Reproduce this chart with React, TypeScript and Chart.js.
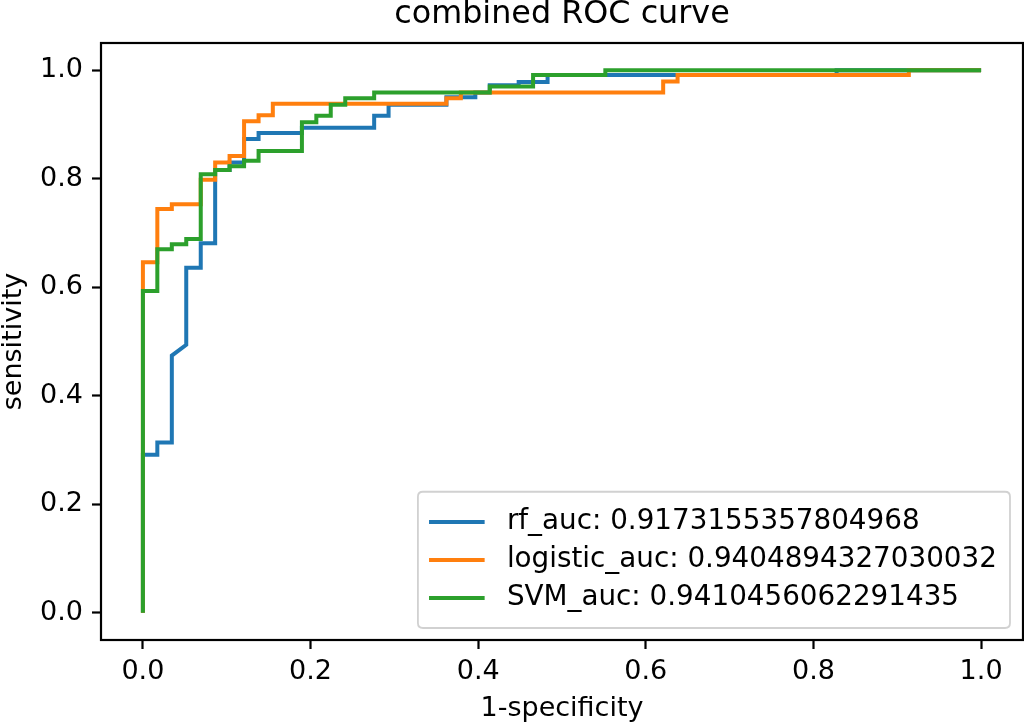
import React, { useEffect, useRef } from "react";
import { Chart, registerables } from "chart.js";
Chart.register(...registerables);

const titleText = "combined ROC curve";
const xAxisLabel = "1-specificity";
const yAxisLabel = "sensitivity";
const xTickValues = [0, 0.2, 0.4, 0.6, 0.8, 1.0];
const yTickValues = [0, 0.2, 0.4, 0.6, 0.8, 1.0];

const seriesNames = [
  "rf_auc: 0.9173155357804968",
  "logistic_auc: 0.9404894327030032",
  "SVM_auc: 0.9410456062291435",
];
const seriesColors = ["#1f77b4", "#ff7f0e", "#2ca02c"];

const rfFpr = [0, 0, 0.0172, 0.0172, 0.0345, 0.0345, 0.0517, 0.0517, 0.069, 0.069, 0.0862, 0.0862, 0.1034, 0.1034, 0.1207, 0.1207, 0.138, 0.138, 0.1897, 0.1897, 0.2759, 0.2759, 0.2931, 0.2931, 0.3621, 0.3621, 0.3966, 0.3966, 0.4138, 0.4138, 0.4483, 0.4483, 0.4828, 0.4828, 0.8276, 0.8276, 1];
const rfTpr = [0, 0.2915, 0.2915, 0.314, 0.314, 0.474, 0.494, 0.636, 0.636, 0.681, 0.681, 0.816, 0.816, 0.83, 0.83, 0.873, 0.873, 0.884, 0.884, 0.894, 0.894, 0.916, 0.916, 0.936, 0.936, 0.95, 0.95, 0.959, 0.959, 0.972, 0.972, 0.978, 0.978, 0.991, 0.991, 1, 1];

const logFpr = [0, 0, 0.0172, 0.0172, 0.0345, 0.0345, 0.069, 0.069, 0.0862, 0.0862, 0.1034, 0.1034, 0.1207, 0.1207, 0.138, 0.138, 0.155, 0.155, 0.3621, 0.3621, 0.3793, 0.3793, 0.6207, 0.6207, 0.6379, 0.6379, 0.9138, 0.9138, 1];
const logTpr = [0, 0.646, 0.646, 0.744, 0.744, 0.753, 0.753, 0.798, 0.798, 0.83, 0.83, 0.842, 0.842, 0.906, 0.906, 0.917, 0.917, 0.938, 0.938, 0.948, 0.948, 0.959, 0.959, 0.979, 0.979, 0.991, 0.991, 1, 1];

const svmFpr = [0, 0, 0.0172, 0.0172, 0.0345, 0.0345, 0.0517, 0.0517, 0.069, 0.069, 0.0862, 0.0862, 0.1034, 0.1034, 0.1207, 0.1207, 0.138, 0.138, 0.1897, 0.1897, 0.2069, 0.2069, 0.2241, 0.2241, 0.2414, 0.2414, 0.2759, 0.2759, 0.4138, 0.4138, 0.4655, 0.4655, 0.5517, 0.5517, 1];
const svmTpr = [0, 0.593, 0.593, 0.67, 0.67, 0.679, 0.679, 0.689, 0.689, 0.808, 0.808, 0.816, 0.816, 0.823, 0.823, 0.833, 0.833, 0.851, 0.851, 0.904, 0.904, 0.916, 0.916, 0.936, 0.936, 0.948, 0.948, 0.959, 0.959, 0.97, 0.97, 0.991, 0.991, 1, 1];

const FONT = "'DejaVu Sans', sans-serif";
const FS = 27;
const LFS = 27.8;

const toPoints = (xs: number[], ys: number[]) => xs.map((x, i) => ({ x, y: ys[i] }));

const decorPlugin = {
  id: "decor",
  afterDatasetsDraw(chart: any) {
    const { ctx, chartArea } = chart;
    const { left, right, top, bottom } = chartArea;
    ctx.save();
    // spines
    ctx.strokeStyle = "#000";
    ctx.lineWidth = 2.2;
    ctx.strokeRect(left, top, right - left, bottom - top);
    // title
    ctx.fillStyle = "#000";
    ctx.font = `${31.8}px ${FONT}`;
    ctx.textAlign = "center";
    ctx.textBaseline = "middle";
    ctx.fillText(titleText, (left + right) / 2, 15);
    // legend
    ctx.font = `${LFS}px ${FONT}`;
    const pad = 0.4 * LFS;
    const handle = 2.0 * LFS;
    const gap = 0.8 * LFS;
    const rowH = 38;
    const textW = Math.max(...seriesNames.map((n) => ctx.measureText(n).width));
    const boxW = pad * 2 + handle + gap + textW + 2;
    const boxH = pad * 2 + rowH * 3;
    const bx = right - 13 - boxW;
    const by = bottom - 12 - boxH;
    const r = 5;
    ctx.beginPath();
    ctx.moveTo(bx + r, by);
    ctx.lineTo(bx + boxW - r, by);
    ctx.quadraticCurveTo(bx + boxW, by, bx + boxW, by + r);
    ctx.lineTo(bx + boxW, by + boxH - r);
    ctx.quadraticCurveTo(bx + boxW, by + boxH, bx + boxW - r, by + boxH);
    ctx.lineTo(bx + r, by + boxH);
    ctx.quadraticCurveTo(bx, by + boxH, bx, by + boxH - r);
    ctx.lineTo(bx, by + r);
    ctx.quadraticCurveTo(bx, by, bx + r, by);
    ctx.closePath();
    ctx.fillStyle = "rgba(255,255,255,0.8)";
    ctx.fill();
    ctx.strokeStyle = "rgba(204,204,204,0.9)";
    ctx.lineWidth = 1.8;
    ctx.stroke();
    chart.data.datasets.forEach((ds: any, i: number) => {
      const cy = by + pad + rowH * (i + 0.5);
      const hx = bx + pad;
      ctx.strokeStyle = ds.borderColor;
      ctx.lineWidth = 4;
      ctx.beginPath();
      ctx.moveTo(hx, cy);
      ctx.lineTo(hx + handle, cy);
      ctx.stroke();
      ctx.fillStyle = "#000";
      ctx.textAlign = "left";
      ctx.textBaseline = "middle";
      ctx.fillText(ds.label, hx + handle + gap, cy);
    });
    ctx.restore();
  },
};

export default function App() {
  const ref = useRef<HTMLCanvasElement | null>(null);
  useEffect(() => {
    if (!ref.current) return;
    const chart = new Chart(ref.current, {
      type: "line",
      data: {
        datasets: [
          { label: seriesNames[0], data: toPoints(rfFpr, rfTpr), borderColor: seriesColors[0], order: 3 },
          { label: seriesNames[1], data: toPoints(logFpr, logTpr), borderColor: seriesColors[1], order: 2 },
          { label: seriesNames[2], data: toPoints(svmFpr, svmTpr), borderColor: seriesColors[2], order: 1 },
        ].map((d) => ({
          ...d,
          borderWidth: 4,
          pointRadius: 0,
          tension: 0,
          fill: false,
          backgroundColor: d.borderColor,
        })),
      },
      options: {
        animation: false,
        responsive: true,
        maintainAspectRatio: false,
        devicePixelRatio: 1,
        layout: { padding: { top: 43, right: 1, left: 0, bottom: 0 } },
        plugins: { legend: { display: false }, title: { display: false }, tooltip: { enabled: false } },
        scales: {
          x: {
            type: "linear",
            min: -0.05,
            max: 1.05,
            afterBuildTicks: (s: any) => {
              s.ticks = xTickValues.map((v) => ({ value: v }));
            },
            afterFit: (s: any) => {
              s.height = 85;
            },
            border: { display: false },
            grid: { drawOnChartArea: false, drawTicks: true, tickLength: 9, tickColor: "#000", tickWidth: 2.2 },
            ticks: {
              padding: 7,
              color: "#000",
              font: { family: FONT, size: FS },
              maxRotation: 0,
              callback: (v: any) => Number(v).toFixed(1),
            },
            title: {
              display: true,
              text: xAxisLabel,
              color: "#000",
              font: { family: FONT, size: FS, lineHeight: 1.0 },
              padding: { top: 0, bottom: 3 },
            },
          },
          y: {
            type: "linear",
            min: -0.05,
            max: 1.05,
            afterBuildTicks: (s: any) => {
              s.ticks = yTickValues.map((v) => ({ value: v }));
            },
            afterFit: (s: any) => {
              s.width = 101;
            },
            border: { display: false },
            grid: { drawOnChartArea: false, drawTicks: true, tickLength: 9, tickColor: "#000", tickWidth: 2.2 },
            ticks: {
              padding: 9,
              color: "#000",
              font: { family: FONT, size: FS },
              callback: (v: any) => Number(v).toFixed(1),
            },
            title: {
              display: true,
              text: yAxisLabel,
              color: "#000",
              font: { family: FONT, size: FS, lineHeight: 1.0 },
              padding: { top: 0, bottom: 0 },
            },
          },
        },
      },
      plugins: [decorPlugin],
    } as any);
    return () => chart.destroy();
  }, []);
  return (
    <div style={{ position: "absolute", left: 0, top: 0, width: 1024, height: 725, background: "#fff" }}>
      <canvas ref={ref} />
    </div>
  );
}
